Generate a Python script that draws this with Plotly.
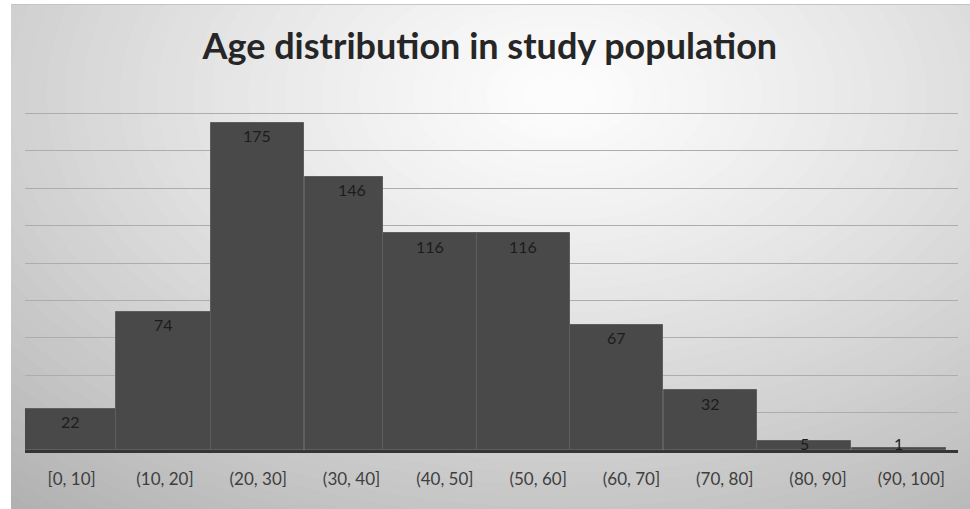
import plotly.graph_objects as go

# Age bins and counts
age_bins = ["[0, 10]", "(10, 20]", "(20, 30]", "(30, 40]", "(40, 50]",
            "(50, 60]", "(60, 70]", "(70, 80]", "(80, 90]", "(90, 100]"]
counts = [22, 74, 175, 146, 116, 116, 67, 32, 5, 1]
y_ticks = [0, 20, 40, 60, 80, 100, 120, 140, 160, 180, 200]

W, H = 970, 509
PLOT_TOP, PLOT_BOTTOM = 76, 450
PX_PER_UNIT = (PLOT_BOTTOM - PLOT_TOP) / 200

# per-bar placement in category units (bar start offset and width)
bar_offset = [-0.52, -0.52, -0.51, -0.5, -0.66, -0.66, -0.66, -0.65, -0.65, -0.64]
bar_width = [1.01, 1.01, 1.0, 0.836, 1.0, 1.0, 1.0, 1.0, 1.0, 1.01]

fig = go.Figure()
fig.add_trace(go.Bar(
    x=age_bins, y=counts,
    offset=bar_offset, width=bar_width,
    marker=dict(color="#494949", line=dict(color="#5e5e5e", width=1)),
    hoverinfo="x+y",
))

# value labels just under the top edge of each bar, kept above the baseline
for i, (b, v) in enumerate(zip(age_bins, counts)):
    centre = bar_offset[i] + bar_width[i] / 2 if i != 3 else 0.0
    drop = min(13.0, v * PX_PER_UNIT - 7.0)
    fig.add_annotation(x=i + centre, y=v, text=str(v), showarrow=False,
                       yanchor="middle", yshift=-drop,
                       font=dict(family="Lato", size=16, color="#1c1c1c"))

# soft radial background built from stacked ellipses
shapes = []
cx, cy = 560, 95
ax, ay = 880, 550
n = 60
for k in range(n, 0, -1):
    r = 1.25 * k / n
    g = int(round(max(172, 253 - 78 * (r ** 1.25))))
    col = f"rgb({g},{g},{g})"
    shapes.append(dict(type="circle", xref="paper", yref="paper", layer="below",
                       x0=(cx - ax * r) / W, x1=(cx + ax * r) / W,
                       y0=1 - (cy + ay * r) / H, y1=1 - (cy - ay * r) / H,
                       fillcolor=col, line=dict(width=0)))
# white page margin around the chart panel
shapes.append(dict(type="rect", xref="paper", yref="paper", layer="below",
                   x0=-0.01, x1=11 / W, y0=-0.01, y1=1.01,
                   fillcolor="white", line=dict(width=0)))
shapes.append(dict(type="rect", xref="paper", yref="paper", layer="below",
                   x0=-0.01, x1=1.01, y0=1 - 4 / H, y1=1.01,
                   fillcolor="white", line=dict(width=0)))
shapes.append(dict(type="line", xref="paper", yref="paper", layer="below",
                   x0=11 / W, x1=1.0, y0=1 - 4.5 / H, y1=1 - 4.5 / H,
                   line=dict(color="#c4c4c4", width=1)))

fig.update_layout(
    width=W, height=H,
    margin=dict(l=0, r=0, t=0, b=0),
    paper_bgcolor="white",
    plot_bgcolor="rgba(0,0,0,0)",
    showlegend=False,
    bargap=0,
    shapes=shapes,
    title=dict(text="<b>Age distribution in study population</b>",
               x=0.505, xanchor="center", y=1 - 46 / H, yanchor="middle",
               font=dict(family="Lato", size=36, color="#262626")),
    xaxis=dict(domain=[25 / W, 958 / W], range=[-0.5, 9.5],
               showline=True, linecolor="#353535", linewidth=3,
               ticks="outside", ticklen=12, tickcolor="rgba(0,0,0,0)",
               tickfont=dict(family="Lato", size=17, color="#3e3e3e"),
               showgrid=False, zeroline=False, fixedrange=True),
    yaxis=dict(domain=[(H - PLOT_BOTTOM) / H, (H - PLOT_TOP) / H], range=[0, 200],
               tickvals=y_ticks, showticklabels=False,
               showgrid=True, gridcolor="#adadad", gridwidth=1,
               zeroline=False, fixedrange=True),
)

fig.write_html("out.html")
